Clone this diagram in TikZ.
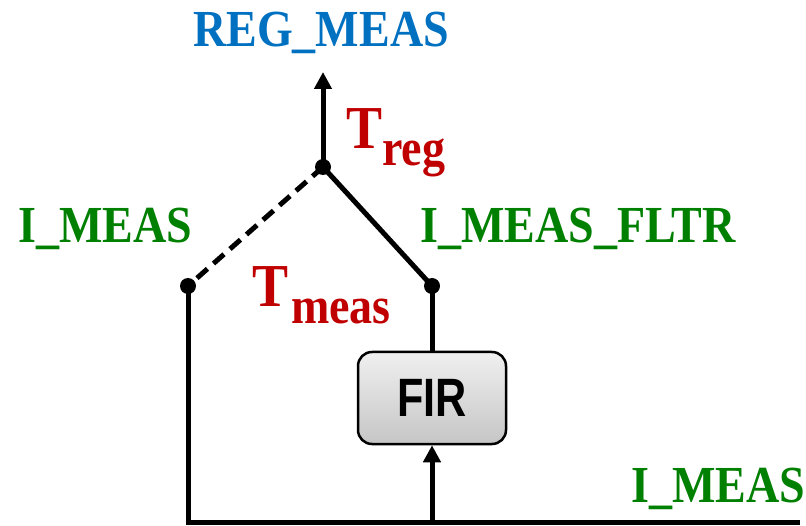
\documentclass[tikz,border=0pt]{standalone}
\usepackage{fontspec}
\usetikzlibrary{arrows.meta}
\newfontfamily\labf[FakeStretch=0.885]{Liberation Serif}
\newfontfamily\firf[FakeStretch=0.8]{Liberation Sans}
\definecolor{cblue}{RGB}{0,112,192}
\definecolor{cgreen}{RGB}{0,128,0}
\definecolor{cred}{RGB}{192,0,0}
\tikzset{
  wire/.style={line width=5pt, line join=miter},
  arr/.style={wire, -{Triangle[length=17pt,width=17pt]}},
  dot/.style={circle, fill=black, minimum size=16pt, inner sep=0pt},
  lab/.style={inner sep=0pt, anchor=base west, font=\labf\bfseries\fontsize{52}{60}\selectfont},
  bigt/.style={inner sep=0pt, anchor=base west, text=cred, font=\labf\bfseries\fontsize{61}{70}\selectfont},
  subt/.style={inner sep=0pt, anchor=base west, text=cred, font=\labf\bfseries\fontsize{52}{60}\selectfont},
  firbox/.style={draw, line width=2.5pt, rounded corners=14pt, minimum width=148pt, minimum height=92pt,
    top color=gray!12, bottom color=gray!45, inner sep=0pt,
    font=\firf\bfseries\fontsize{54}{60}\selectfont}
}
\begin{document}
\begin{tikzpicture}[x=1pt,y=-1pt]
\useasboundingbox (0,0) rectangle (806,526);
% nodes
\node[dot] (top) at (323,167) {};
\node[dot] (ldot) at (188,286) {};
\node[dot] (rdot) at (432,286) {};
\node[firbox] (fir) at (432,398) {FIR};
\coordinate (regtip) at (323,72);
\coordinate (br) at (800,522);
\coordinate (bm) at (432,522);
% connectors
\draw[arr] (top.center) -- (regtip);
\draw[wire, dashed, dash pattern=on 14pt off 8pt] (top.center) -- (ldot.center);
\draw[wire] (top.center) -- (rdot.center);
\draw[wire] (rdot.center) -- (fir.north);
\draw[wire] (ldot.center) |- (br);
\draw[arr] (bm) -- (fir.south);
% labels
\node[lab, text=cblue, anchor=base] (lreg) at (321,47) {REG\_MEAS};
\node[lab, text=cgreen] (lim) at (18,243) {I\_MEAS};
\node[lab, text=cgreen] (limf) at (420,243) {I\_MEAS\_FLTR};
\node[lab, text=cgreen] (limb) at (631,502) {I\_MEAS};
\node[bigt] (treg) at (346,149) {T};
\node[subt] (treg2) at (382,166) {reg};
\node[bigt] (tmeas) at (252,307) {T};
\node[subt] (tmeas2) at (291,324) {meas};
\end{tikzpicture}
\end{document}
